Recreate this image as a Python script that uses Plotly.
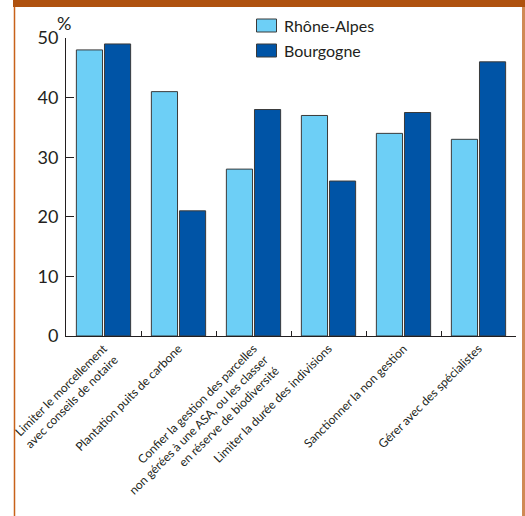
import plotly.graph_objects as go

# Survey answers (% of respondents) per measure, for two regions
categories = [
    "Limiter le morcellement<br>avec conseils de notaire",
    "Plantation puits de carbone",
    "Confier la gestion des parcelles<br>non gérées à une ASA, ou les classer<br>en réserve de biodiversité",
    "Limiter la durée des indivisions",
    "Sanctionner la non gestion",
    "Gérer avec des spécialistes",
]
series_names = ["Rhône-Alpes", "Bourgogne"]
rhone_alpes = [48, 41, 28, 37, 34, 33]
bourgogne = [49, 21, 38, 26, 37.5, 46]
y_ticks = [0, 10, 20, 30, 40, 50]

W, H = 525, 516
L, R, T, B = 66, 9, 38, 180
PW, PH = W - L - R, H - T - B

LIGHT = "#6DCFF6"
DARK = "#0054A6"
EDGE = "#3a3a3a"
INK = "#231F20"
FONT = "Lato, 'Open Sans', sans-serif"


def px_x(px):
    return (px - L) / PW


def px_y(py):
    return (H - B - py) / PH


fig = go.Figure()
for name, vals, col in [(series_names[0], rhone_alpes, LIGHT), (series_names[1], bourgogne, DARK)]:
    fig.add_trace(go.Bar(
        x=categories, y=vals, name=name,
        marker=dict(color=col, line=dict(color=EDGE, width=1)),
        showlegend=False,
    ))

shapes = [
    # top band
    dict(type="rect", xref="paper", yref="paper",
         x0=px_x(13), x1=px_x(W + 2), y0=px_y(7), y1=px_y(-2),
         fillcolor="#AF520F", line=dict(width=0), layer="above"),
    # left frame line
    dict(type="line", xref="paper", yref="paper",
         x0=px_x(14.5), x1=px_x(14.5), y0=px_y(7), y1=px_y(H + 2),
         line=dict(color="#C8621A", width=1.5)),
    # right frame line
    dict(type="line", xref="paper", yref="paper",
         x0=px_x(523.5), x1=px_x(523.5), y0=px_y(7), y1=px_y(H + 2),
         line=dict(color="#D08A55", width=3)),
]

annotations = [
    dict(text="%", xref="paper", yref="paper", x=px_x(55), y=px_y(10),
         xanchor="left", yanchor="top", showarrow=False,
         font=dict(family=FONT, size=18, color=INK)),
]

# hand-built legend
for i, (name, col) in enumerate([(series_names[0], LIGHT), (series_names[1], DARK)]):
    cy = 25.5 + i * 25
    shapes.append(dict(type="rect", xref="paper", yref="paper",
                       x0=px_x(256.5), x1=px_x(276.5), y0=px_y(cy + 6.5), y1=px_y(cy - 6.5),
                       fillcolor=col, line=dict(color=EDGE, width=1)))
    annotations.append(dict(text=name, xref="paper", yref="paper",
                            x=px_x(282), y=px_y(cy), xanchor="left", yanchor="middle",
                            showarrow=False,
                            font=dict(family=FONT, size=16, color=INK)))

fig.update_layout(
    width=W, height=H,
    margin=dict(l=L, r=R, t=T, b=B, pad=0),
    paper_bgcolor="white", plot_bgcolor="white",
    barmode="group", bargap=0.25, bargroupgap=0.07,
    shapes=shapes, annotations=annotations,
    font=dict(family=FONT, color=INK),
    xaxis=dict(
        showline=True, linecolor=INK, linewidth=1,
        ticks="inside", tickson="boundaries", ticklen=5, tickcolor=INK,
        tickangle=-45, tickfont=dict(family=FONT, size=12, color=INK),
        showgrid=False, zeroline=False,
    ),
    yaxis=dict(
        range=[0, 50], tickvals=y_ticks,
        showline=True, linecolor=INK, linewidth=1,
        ticks="inside", ticklen=8, tickcolor=INK, ticklabelstandoff=3,
        tickfont=dict(family=FONT, size=18, color=INK),
        showgrid=False, zeroline=False,
    ),
)

fig.write_html("out.html")
